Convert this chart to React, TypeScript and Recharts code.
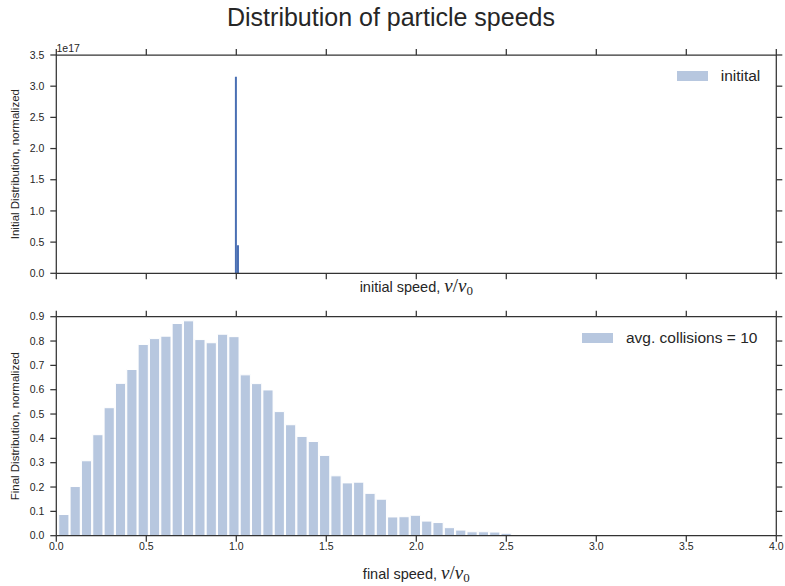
import { BarChart, Bar, XAxis, YAxis, Legend, Label } from 'recharts';

// x ticks shared by both panels
const speedTicks = [0, 0.5, 1, 1.5, 2, 2.5, 3, 3.5, 4];

// top panel: initial speeds are (almost) all v0, so the histogram is a spike
const initialCenters = [0.998, 1.0095];
const initialHeights = [3.15e17, 0.45e17];
const initialTicks = [0, 0.5e17, 1e17, 1.5e17, 2e17, 2.5e17, 3e17, 3.5e17];

// bottom panel: histogram after ~10 collisions
const finalBinStart = 0.008;
const finalBinWidth = 0.063;
const finalHeights = [
  0.087, 0.202, 0.308, 0.415, 0.526, 0.626, 0.683, 0.786, 0.81, 0.82,
  0.872, 0.883, 0.806, 0.793, 0.828, 0.818, 0.661, 0.625, 0.599, 0.51,
  0.456, 0.408, 0.387, 0.33, 0.246, 0.217, 0.22, 0.174, 0.15, 0.077,
  0.078, 0.084, 0.06, 0.054, 0.033, 0.023, 0.016, 0.016, 0.015, 0.01,
  0.003,
];
const finalTicks = [0, 0.1, 0.2, 0.3, 0.4, 0.5, 0.6, 0.7, 0.8, 0.9];

const initialData = initialCenters.map((x, i) => ({ x, count: initialHeights[i] }));
const finalData = finalHeights.map((count, i) => ({
  x: finalBinStart + (i + 0.5) * finalBinWidth,
  count,
}));

const INK = '#262626';
const SPINE = '#333333';
const BLUE = '#4c72b0';
const FONT = '"Liberation Sans", Arial, sans-serif';
const MATH = '"Liberation Serif", serif';
const PX_PER_UNIT = 720 / 4;

const axisCommon = {
  stroke: SPINE,
  strokeWidth: 1.25,
  tickSize: 6,
  tick: { fill: INK, fontSize: 10.5 },
  interval: 0 as const,
  allowDataOverflow: true,
};
const blank = () => '';

function SpeedLabel({ viewBox, prefix, dy }: any) {
  const vb = viewBox || { x: 0, y: 0, width: 0, height: 0 };
  return (
    <text x={vb.x + vb.width / 2} y={vb.y + dy} textAnchor="middle" fill={INK} fontSize={14.5}>
      {prefix}
      <tspan fontFamily={MATH} fontStyle="italic" fontSize={19}>v</tspan>
      <tspan fontFamily={MATH} fontSize={19}>/</tspan>
      <tspan fontFamily={MATH} fontStyle="italic" fontSize={19}>v</tspan>
      <tspan fontFamily={MATH} fontSize={13} dy={3}>0</tspan>
    </text>
  );
}

function YTitle({ viewBox, text, offsetText }: any) {
  const vb = viewBox || { x: 0, y: 0, width: 0, height: 0 };
  const cy = vb.y + vb.height / 2;
  return (
    <g>
      <text x={19.5} y={cy} transform={`rotate(-90 19.5 ${cy})`} textAnchor="middle" fill={INK} fontSize={11.5}>
        {text}
      </text>
      {offsetText && (
        <text x={56.5} y={vb.y - 3.5} fill={INK} fontSize={10.5}>
          {offsetText}
        </text>
      )}
    </g>
  );
}

function LegendBox({ name }: { name: string }) {
  return (
    <div style={{ display: 'flex', alignItems: 'center', fontFamily: FONT, whiteSpace: 'nowrap' }}>
      <span style={{ display: 'inline-block', width: 31, height: 10, background: BLUE, opacity: 0.4, marginRight: 13 }} />
      <span style={{ fontSize: 15.5, lineHeight: '18px', color: INK }}>{name}</span>
    </div>
  );
}

export default function App() {
  return (
    <div style={{ position: 'absolute', left: 0, top: 0, width: 785, height: 586, background: '#fff', fontFamily: FONT }}>
      <div
        style={{
          position: 'absolute', left: 0, top: 5, width: 782, textAlign: 'center',
          fontSize: 25, lineHeight: '25px', color: INK,
        }}
      >
        Distribution of particle speeds
      </div>

      {/* top panel */}
      <div style={{ position: 'absolute', left: 0, top: 0 }}>
        <BarChart
          width={785}
          height={300}
          data={initialData}
          margin={{ top: 47, right: 0.7, bottom: 6.7, left: 11.3 }}
          barCategoryGap={0}
          barGap={0}
        >
          <XAxis dataKey="x" type="number" domain={[0, 4]} ticks={speedTicks} height={20} tickFormatter={blank} {...axisCommon}>
            <Label content={(p: any) => <SpeedLabel {...p} prefix="initial speed, " dy={19} />} />
          </XAxis>
          <XAxis xAxisId="top" dataKey="x" orientation="top" type="number" domain={[0, 4]} ticks={speedTicks} height={8} tickFormatter={blank} {...axisCommon} />
          <YAxis
            dataKey="count"
            type="number"
            domain={[0, 3.5e17]}
            ticks={initialTicks}
            width={45}
            tickMargin={6}
            tickFormatter={(v: number) => (v / 1e17).toFixed(1)}
            {...axisCommon}
          >
            <Label content={(p: any) => <YTitle {...p} text="Initial Distribution, normalized" offsetText="1e17" />} />
          </YAxis>
          <YAxis yAxisId="right" dataKey="count" orientation="right" type="number" domain={[0, 3.5e17]} ticks={initialTicks} width={8} tickFormatter={blank} {...axisCommon} />
          <Legend
            layout="vertical"
            align="center"
            verticalAlign="middle"
            wrapperStyle={{ top: 66.6, left: 676.7, width: 'auto' }}
            content={() => <LegendBox name="initital" />}
          />
          <Bar dataKey="count" name="initital" fill="#4a6fb3" barSize={2} isAnimationActive={false} />
        </BarChart>
      </div>

      {/* bottom panel */}
      <div style={{ position: 'absolute', left: 0, top: 300 }}>
        <BarChart
          width={785}
          height={286}
          data={finalData}
          margin={{ top: 8.7, right: 0.7, bottom: 20.3, left: 11.3 }}
          barCategoryGap={0}
          barGap={0}
        >
          <XAxis
            dataKey="x"
            type="number"
            domain={[0, 4]}
            ticks={speedTicks}
            height={30}
            tickMargin={1}
            tickFormatter={(v: number) => v.toFixed(1)}
            {...axisCommon}
          >
            <Label content={(p: any) => <SpeedLabel {...p} prefix="final speed, " dy={43} />} />
          </XAxis>
          <XAxis xAxisId="top" dataKey="x" orientation="top" type="number" domain={[0, 4]} ticks={speedTicks} height={8} tickFormatter={blank} {...axisCommon} />
          <YAxis
            dataKey="count"
            type="number"
            domain={[0, 0.9]}
            ticks={finalTicks}
            width={45}
            tickMargin={6}
            tickFormatter={(v: number) => v.toFixed(1)}
            {...axisCommon}
          >
            <Label content={(p: any) => <YTitle {...p} text="Final Distribution, normalized" />} />
          </YAxis>
          <YAxis yAxisId="right" dataKey="count" orientation="right" type="number" domain={[0, 0.9]} ticks={finalTicks} width={8} tickFormatter={blank} {...axisCommon} />
          <Legend
            layout="vertical"
            align="center"
            verticalAlign="middle"
            wrapperStyle={{ top: 29, left: 582, width: 'auto' }}
            content={() => <LegendBox name="avg. collisions = 10" />}
          />
          <Bar
            dataKey="count"
            name="avg. collisions = 10"
            fill={BLUE}
            fillOpacity={0.4}
            stroke="#ffffff"
            strokeWidth={1}
            barSize={finalBinWidth * PX_PER_UNIT}
            isAnimationActive={false}
          />
        </BarChart>
      </div>
    </div>
  );
}
